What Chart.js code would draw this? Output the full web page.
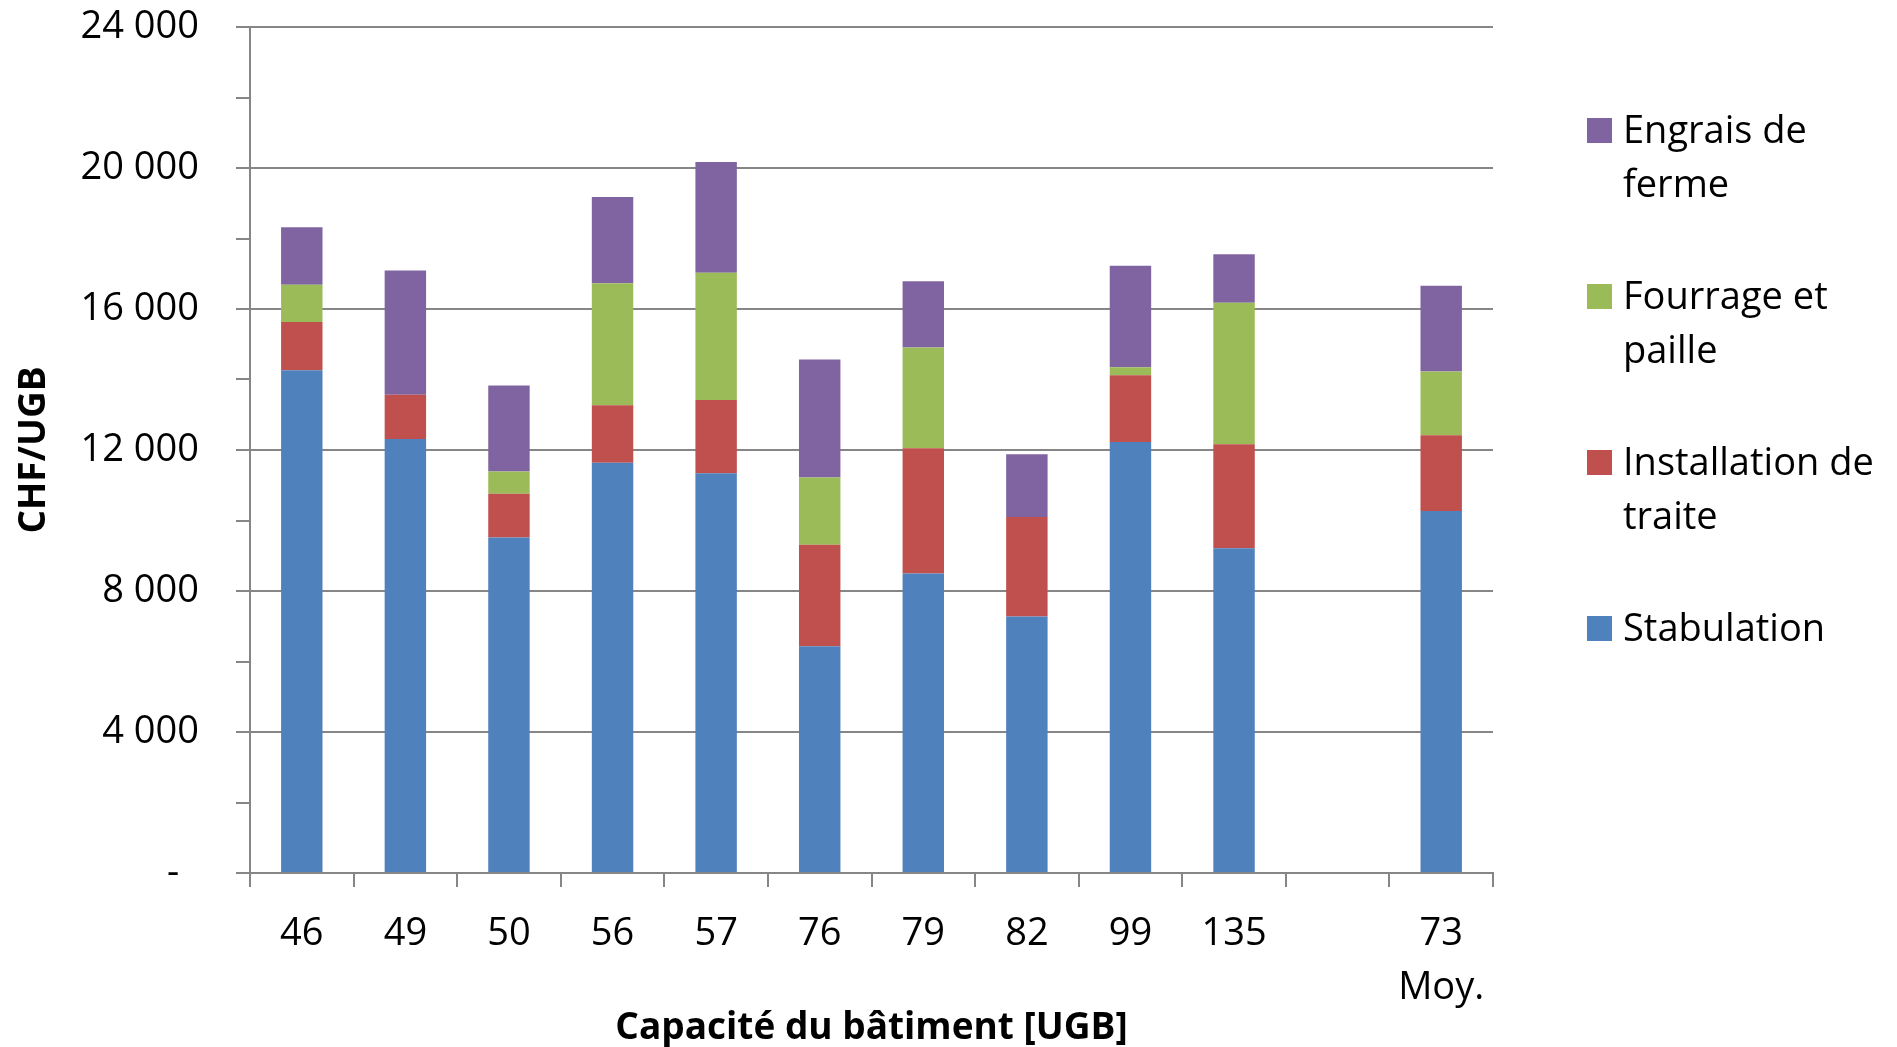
<!DOCTYPE html>
<html>
<head>
<meta charset="utf-8">
<script src="https://cdn.jsdelivr.net/npm/chart.js@4"></script>
<style>
  html, body { margin: 0; padding: 0; background: #fff; }
  canvas { display: block; }
</style>
</head>
<body>
<canvas id="chart" width="1897" height="1047"></canvas>
<script>
// Building capacity [UGB] per farm, the empty slot separates the average
const categories = ['46', '49', '50', '56', '57', '76', '79', '82', '99', '135', '', ['73', 'Moy.']];

// CHF/UGB per cost item
const stabulation = [14260, 12310, 9520, 11640, 11340, 6430, 8500, 7280, 12230, 9210, null, 10270];
const installation = [1370, 1260, 1240, 1630, 2080, 2880, 3550, 2820, 1890, 2950, null, 2150];
const fourrage = [1060, 0, 630, 3460, 3610, 1910, 2860, 0, 230, 4020, null, 1810];
const engrais = [1630, 3520, 2440, 2450, 3140, 3350, 1880, 1780, 2880, 1370, null, 2430];

const seriesNames = ['Stabulation', 'Installation de traite', 'Fourrage et paille', 'Engrais de ferme'];
// legend text split the way the reference wraps it
const legendLines = [['Stabulation'], ['Installation de', 'traite'], ['Fourrage et', 'paille'], ['Engrais de', 'ferme']];

const yTicks = { min: 0, max: 24000, step: 2000, labelStep: 4000 };

const colors = ['#4F81BD', '#C0504D', '#9BBB59', '#8064A2'];
const axisGray = '#868686';
const FONT = 'Open Sans';

// format 24000 -> "24 000", zero -> "-"
function formatTick(v) {
    if (v === 0) return '-  ';
    return String(v).replace(/\B(?=(\d{3})+(?!\d))/g, ' ');
}

// draws the wrapped legend on the right side
const sideLegend = {
    id: 'sideLegend',
    afterDraw(chart) {
        const ctx = chart.ctx;
        ctx.save();
        ctx.font = `38px "${FONT}"`;
        ctx.textBaseline = 'alphabetic';
        ctx.textAlign = 'left';
        const order = [3, 2, 1, 0];
        order.forEach((di, k) => {
            const base = 143 + k * 166;
            ctx.fillStyle = chart.data.datasets[di].backgroundColor;
            ctx.fillRect(1587, base - 25, 25, 25);
            ctx.fillStyle = '#000';
            legendLines[di].forEach((line, j) => {
                ctx.fillText(line, 1623, base + j * 54);
            });
        });
        ctx.restore();
    }
};

const seriesData = [stabulation, installation, fourrage, engrais];

new Chart(document.getElementById('chart'), {
    type: 'bar',
    data: {
        labels: categories,
        datasets: seriesData.map((d, i) => ({
            label: seriesNames[i],
            data: d,
            backgroundColor: colors[i],
            borderWidth: 0,
            barPercentage: 0.4,
            categoryPercentage: 1
        }))
    },
    options: {
        responsive: false,
        devicePixelRatio: 1,
        animation: false,
        layout: { padding: { top: 27, right: 404, left: 0, bottom: 0 } },
        plugins: {
            legend: { display: false },
            tooltip: { enabled: false }
        },
        scales: {
            x: {
                stacked: true,
                afterFit: s => { s.height = 174; s.paddingLeft = 0; s.paddingRight = 0; },
                grid: {
                    offset: true,
                    drawOnChartArea: false,
                    tickLength: 14,
                    color: axisGray,
                    lineWidth: 2
                },
                border: { color: axisGray, width: 2 },
                ticks: {
                    color: '#000',
                    font: { family: FONT, size: 38, lineHeight: 1.4 },
                    padding: 21,
                    maxRotation: 0,
                    autoSkip: false
                },
                title: {
                    display: true,
                    text: 'Capacité du bâtiment [UGB]',
                    color: '#000',
                    font: { family: FONT, size: 37, weight: 'bold', lineHeight: 1.0 },
                    padding: { top: 0, bottom: 0 }
                }
            },
            y: {
                stacked: true,
                min: yTicks.min,
                max: yTicks.max,
                afterFit: s => { s.width = 250; s.paddingTop = 0; s.paddingBottom = 0; },
                grid: {
                    color: c => (c.tick && c.tick.value % yTicks.labelStep === 0) ? axisGray : 'rgba(0,0,0,0)',
                    tickColor: axisGray,
                    tickLength: 14,
                    lineWidth: 2
                },
                border: { color: axisGray, width: 2 },
                ticks: {
                    stepSize: yTicks.step,
                    color: '#000',
                    font: { family: FONT, size: 38 },
                    padding: 37,
                    callback: v => (v % yTicks.labelStep === 0 ? formatTick(v) : '')
                },
                title: {
                    display: true,
                    text: 'CHF/UGB',
                    color: '#000',
                    font: { family: FONT, size: 37, weight: 'bold', lineHeight: 1.0 },
                    padding: { top: 16, bottom: 0 }
                }
            }
        }
    },
    plugins: [sideLegend]
});
</script>
</body>
</html>
